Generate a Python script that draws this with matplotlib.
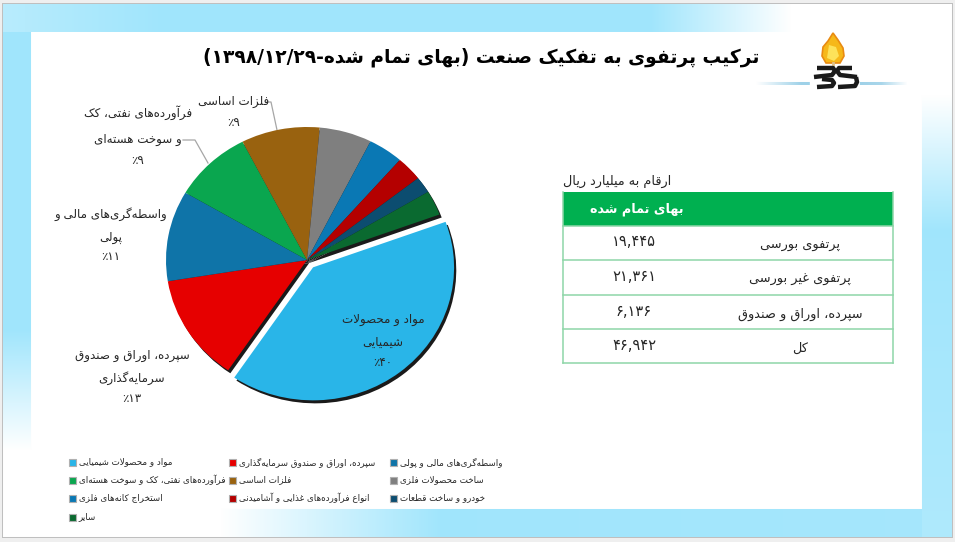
import re
import numpy as np
import matplotlib
matplotlib.use("Agg")
import matplotlib.pyplot as plt
from matplotlib.patches import Wedge, Rectangle, Polygon
from matplotlib.transforms import offset_copy
from matplotlib import font_manager
from matplotlib.ft2font import FT2Font

# ---------------- data ----------------
title_text = "ترکیب پرتفوی به تفکیک صنعت (بهای تمام شده-۱۳۹۸/۱۲/۲۹)"
industries = ["مواد و محصولات شیمیایی", "سپرده، اوراق و صندوق سرمایه‌گذاری",
              "واسطه‌گری‌های مالی و پولی", "فرآورده‌های نفتی، کک و سوخت هسته‌ای",
              "فلزات اساسی", "ساخت محصولات فلزی", "استخراج کانه‌های فلزی",
              "انواع فرآورده‌های غذایی و آشامیدنی", "خودرو و ساخت قطعات", "سایر"]
shares = [40, 13, 11, 9, 9, 6, 4, 3, 2, 3]
colors = ["#29b5e8", "#e60000", "#0f74a8", "#0aa64f", "#99620f", "#7f7f7f",
          "#0a78b4", "#b40000", "#0c4d70", "#0a6a30"]
pie_label_lines = {0: ["مواد و محصولات", "شیمیایی", "۴۰٪"],
                   1: ["سپرده، اوراق و صندوق", "سرمایه‌گذاری", "۱۳٪"],
                   2: ["واسطه‌گری‌های مالی و", "پولی", "۱۱٪"],
                   3: ["فرآورده‌های نفتی، کک", "و سوخت هسته‌ای", "۹٪"],
                   4: ["فلزات اساسی", "۹٪"]}
table_caption = "ارقام به میلیارد ریال"
table_header = "بهای تمام شده"
table_rows = ["پرتفوی بورسی", "پرتفوی غیر بورسی", "سپرده، اوراق و صندوق", "کل"]
table_values = ["۱۹,۴۴۵", "۲۱,۳۶۱", "۶,۱۳۶", "۴۶,۹۴۲"]

# ---------------- minimal Persian shaping ----------------
font_path = font_manager.findfont("DejaVu Sans")
CMAP = FT2Font(font_path).get_charmap()

def has(c):
    return ord(c) in CMAP

B = {  # char: (iso, fin, ini, med)
    'ء': (0xFE80, None, None, None), 'آ': (0xFE81, 0xFE82, None, None),
    'أ': (0xFE83, 0xFE84, None, None), 'ؤ': (0xFE85, 0xFE86, None, None),
    'إ': (0xFE87, 0xFE88, None, None), 'ئ': (0xFE89, 0xFE8A, 0xFE8B, 0xFE8C),
    'ا': (0xFE8D, 0xFE8E, None, None), 'ب': (0xFE8F, 0xFE90, 0xFE91, 0xFE92),
    'ة': (0xFE93, 0xFE94, None, None), 'ت': (0xFE95, 0xFE96, 0xFE97, 0xFE98),
    'ث': (0xFE99, 0xFE9A, 0xFE9B, 0xFE9C), 'ج': (0xFE9D, 0xFE9E, 0xFE9F, 0xFEA0),
    'ح': (0xFEA1, 0xFEA2, 0xFEA3, 0xFEA4), 'خ': (0xFEA5, 0xFEA6, 0xFEA7, 0xFEA8),
    'د': (0xFEA9, 0xFEAA, None, None), 'ذ': (0xFEAB, 0xFEAC, None, None),
    'ر': (0xFEAD, 0xFEAE, None, None), 'ز': (0xFEAF, 0xFEB0, None, None),
    'س': (0xFEB1, 0xFEB2, 0xFEB3, 0xFEB4), 'ش': (0xFEB5, 0xFEB6, 0xFEB7, 0xFEB8),
    'ص': (0xFEB9, 0xFEBA, 0xFEBB, 0xFEBC), 'ض': (0xFEBD, 0xFEBE, 0xFEBF, 0xFEC0),
    'ط': (0xFEC1, 0xFEC2, 0xFEC3, 0xFEC4), 'ظ': (0xFEC5, 0xFEC6, 0xFEC7, 0xFEC8),
    'ع': (0xFEC9, 0xFECA, 0xFECB, 0xFECC), 'غ': (0xFECD, 0xFECE, 0xFECF, 0xFED0),
    'ف': (0xFED1, 0xFED2, 0xFED3, 0xFED4), 'ق': (0xFED5, 0xFED6, 0xFED7, 0xFED8),
    'ك': (0xFED9, 0xFEDA, 0xFEDB, 0xFEDC), 'ل': (0xFEDD, 0xFEDE, 0xFEDF, 0xFEE0),
    'م': (0xFEE1, 0xFEE2, 0xFEE3, 0xFEE4), 'ن': (0xFEE5, 0xFEE6, 0xFEE7, 0xFEE8),
    'ه': (0xFEE9, 0xFEEA, 0xFEEB, 0xFEEC), 'و': (0xFEED, 0xFEEE, None, None),
    'ى': (0xFEEF, 0xFEF0, None, None), 'ي': (0xFEF1, 0xFEF2, 0xFEF3, 0xFEF4),
    'پ': (0xFB56, 0xFB57, 0xFB58, 0xFB59), 'چ': (0xFB7A, 0xFB7B, 0xFB7C, 0xFB7D),
    'ژ': (0xFB8A, 0xFB8B, None, None), 'ک': (0xFB8E, 0xFB8F, 0xFB90, 0xFB91),
    'گ': (0xFB92, 0xFB93, 0xFB94, 0xFB95), 'ی': (0xFBFC, 0xFBFD, 0xFBFE, 0xFBFF),
}
SUBST = {'ک': 'ك', 'ی': 'ي'}
DUAL = set('بتثجحخسشصضطظعغفقكلمنهيئپچکگی')
RIGHT = set('آأإاؤةدذرزوىژ')
LAMALEF = {'آ': (0xFEF5, 0xFEF6), 'أ': (0xFEF7, 0xFEF8),
           'إ': (0xFEF9, 0xFEFA), 'ا': (0xFEFB, 0xFEFC)}

def form(c, k):
    f = B.get(c)
    if f is None:
        return c
    code = f[k] if f[k] is not None else (f[1] if k == 3 else f[0])
    if k == 2 and f[2] is None:
        code = f[0]
    if code is not None and has(chr(code)):
        return chr(code)
    if c in SUBST:
        return form(SUBST[c], k)
    return c

def shape(s):
    out = []
    n = len(s)
    i = 0
    while i < n:
        c = s[i]
        prev = s[i - 1] if i > 0 else ''
        nxt = s[i + 1] if i + 1 < n else ''
        jp = (c in DUAL or c in RIGHT) and prev in DUAL
        if c == 'ل' and nxt in LAMALEF:
            code = LAMALEF[nxt][1 if jp else 0]
            out.append(chr(code) if has(chr(code)) else 'لا')
            i += 2
            continue
        jn = c in DUAL and (nxt in DUAL or nxt in RIGHT)
        k = 3 if (jp and jn) else 1 if jp else 2 if jn else 0
        out.append(form(c, k))
        i += 1
    return ''.join(ch for ch in out if ch != '\u200c')

DIG = '0-9۰-۹٠-٩'
MIRROR = {'(': ')', ')': '('}

def fa(s):
    if '٪' in s and not has('٪'):
        s = s.replace('٪', '%')
    v = shape(s)[::-1]
    v = ''.join(MIRROR.get(ch, ch) for ch in v)
    v = re.sub('[%s]+(?:[,./][%s]+)*' % (DIG, DIG), lambda m: m.group(0)[::-1], v)
    return v

# ---------------- figure ----------------
W, H = 955, 542
fig = plt.figure(figsize=(W / 100, H / 100), dpi=100)
fig.patch.set_facecolor("#f0f0f0")
plt.rcParams['font.family'] = ['DejaVu Sans']

def P(x, y):
    return x / W, 1 - y / H

# background frame image
img = np.ones((H, W, 4))
img[..., 3] = 1.0
img[:, :, :3] = 0.94
img[3:538, 2:952, :3] = 0.75
img[4:537, 3:951, :3] = 1.0
band = np.array([0.63, 0.90, 0.99])

def paint(y0, y1, x0, x1, alpha, col):
    region = img[y0:y1, x0:x1, :3]
    a = alpha[..., None]
    img[y0:y1, x0:x1, :3] = region * (1 - a) + col * a

xs = np.arange(3, 800)
a_top = np.clip(np.interp(xs, [3, 160, 650, 790], [0.75, 1, 1, 0]), 0, 1)
paint(4, 32, 3, 800, np.tile(a_top, (28, 1)), band)
ys = np.arange(32, 450)
a_left = np.interp(ys, [32, 330, 450], [1, 1, 0])
paint(32, 450, 3, 31, np.tile(a_left[:, None], (1, 28)), band)
ys = np.arange(95, 537)
a_right = np.interp(ys, [95, 230, 537], [0, 1, 0.85])
paint(95, 537, 921, 951, np.tile(a_right[:, None], (1, 30)), band)
xs = np.arange(220, 921)
a_bot = np.interp(xs, [220, 440, 921], [0, 1, 0.95])
paint(509, 537, 220, 921, np.tile(a_bot, (28, 1)), band)
# thin decorative line beside the logo
line_col = np.array([0.58, 0.80, 0.90])
xs = np.arange(755, 809)
paint(82, 85, 755, 809, np.tile(np.interp(xs, [755, 800, 809], [0, 0.9, 0.9]), (3, 1)), line_col)
xs = np.arange(859, 906)
paint(82, 85, 859, 906, np.tile(np.interp(xs, [859, 880, 906], [0.9, 0.8, 0]), (3, 1)), line_col)

bg = fig.add_axes([0, 0, 1, 1], zorder=-10)
bg.imshow(img, extent=(0, W, H, 0), aspect='auto', interpolation='bilinear')
bg.set_xlim(0, W)
bg.set_ylim(H, 0)
bg.axis('off')

# logo
flame = Polygon([(833, 33), (838, 40), (843, 48), (844, 56), (840, 63), (826, 63),
                 (822, 56), (823, 47), (828, 41)], closed=True,
                facecolor="#f6b81a", edgecolor="#e98b12", lw=1.2)
bg.add_patch(flame)
bg.add_patch(Polygon([(829, 45), (836, 47), (839, 56), (834, 61), (827, 58)],
                     closed=True, facecolor="#fde25a", edgecolor='none'))
bg.plot([833, 833], [63, 68], color="#e0c48a", lw=2)
bg.plot([817, 833, 835, 832, 814], [68, 68, 71, 75, 77], color="#1a1a1a", lw=3.2,
        solid_capstyle='butt', solid_joinstyle='round')
bg.plot([822, 832, 834, 832, 817], [79, 80, 83, 86, 87], color="#1a1a1a", lw=3.2,
        solid_capstyle='butt', solid_joinstyle='round')
bg.plot([852, 839, 837, 840, 857], [68, 68, 71, 75, 77], color="#1a1a1a", lw=3.2,
        solid_capstyle='butt', solid_joinstyle='round')
bg.plot([856, 857, 855, 838], [77, 82, 86, 87], color="#1a1a1a", lw=3.2,
        solid_capstyle='butt', solid_joinstyle='round')

# title
fig.text(*P(481, 57), fa(title_text), ha='center', va='center', fontsize=13.4,
         fontweight='bold', color='black')

# ---------------- pie ----------------
cx, cy, rx, ry = 307, 260, 141, 133
lim = 1.3
ax = fig.add_axes([(cx - lim * rx) / W, (H - cy - lim * ry) / H,
                   2 * lim * rx / W, 2 * lim * ry / H])
explode = [0.07] + [0] * (len(shares) - 1)
wedges, _ = ax.pie(shares, colors=colors, startangle=20, counterclock=False,
                   explode=explode, wedgeprops=dict(linewidth=0))
ax.set_aspect('auto')
ax.set_xlim(-lim, lim)
ax.set_ylim(-lim, lim)
ax.axis('off')
shadow_tr = offset_copy(ax.transData, fig=fig, x=2.2, y=-3.0, units='dots')
for w in wedges:
    w.set_zorder(2)
    sh = Wedge(w.center, w.r, w.theta1, w.theta2, facecolor='#1a1a1a',
               edgecolor='none', transform=shadow_tr, zorder=1)
    ax.add_patch(sh)

label_pos = {0: (383, [320, 342, 362]),
             1: (132, [355, 378, 399]),
             2: (111, [214, 237, 257]),
             3: (138, [113, 139, 160]),
             4: (234, [101, 122])}
for idx, (x, ys_) in label_pos.items():
    for line, y in zip(pie_label_lines[idx], ys_):
        fig.text(*P(x, y), fa(line), ha='center', va='center', fontsize=8.6,
                 color='#262626')
# leader lines
bg.plot([183, 195, 208], [140, 140, 163], color='#a6a6a6', lw=0.9)
bg.plot([267, 271, 277], [102, 102, 130], color='#a6a6a6', lw=0.9)

# ---------------- table ----------------
tx0, tx1 = 563, 893
ty = [192, 226, 260, 295, 329, 363]
tab_ax = fig.add_axes([0, 0, 1, 1], zorder=5)
tab_ax.set_xlim(0, W)
tab_ax.set_ylim(H, 0)
tab_ax.axis('off')
tab_ax.add_patch(Rectangle((tx0, ty[0]), tx1 - tx0, ty[1] - ty[0],
                           facecolor='#00b050', edgecolor='none'))
for y in ty[1:]:
    tab_ax.plot([tx0, tx1], [y, y], color='#8ed6a8', lw=1.1)
tab_ax.plot([tx0, tx0], [ty[0], ty[-1]], color='#8ed6a8', lw=1.1)
tab_ax.plot([tx1, tx1], [ty[0], ty[-1]], color='#8ed6a8', lw=1.1)
tab_ax.text(637, (ty[0] + ty[1]) / 2 + 0.5, fa(table_header), ha='center', va='center',
            fontsize=9.2, fontweight='bold', color='white')
tab_ax.text(tx0, 181, fa(table_caption), ha='left', va='center', fontsize=9.3,
            color='#262626')
for i, (lab, val) in enumerate(zip(table_rows, table_values)):
    yc = (ty[i + 1] + ty[i + 2]) / 2
    tab_ax.text(634, yc - 1, fa(val), ha='center', va='center', fontsize=10.5,
                color='#262626')
    tab_ax.text(800, yc + 2, fa(lab), ha='center', va='center', fontsize=9.3,
                color='#262626')

# ---------------- legend ----------------
col_x = [72, 232, 393]
row_y = [462, 480, 498, 517]
for i, (lab, c) in enumerate(zip(industries, colors)):
    r, k = divmod(i, 3)
    mx, my = col_x[k], row_y[r]
    tab_ax.add_patch(Rectangle((mx - 3.5, my - 3.5), 7, 7, facecolor=c,
                               edgecolor='#b0b0b0', lw=0.8))
    tab_ax.text(mx + 6.5, my, fa(lab), ha='left', va='center', fontsize=6.3,
                color='#262626')

fig.savefig("out.png", dpi=100, facecolor=fig.get_facecolor())
